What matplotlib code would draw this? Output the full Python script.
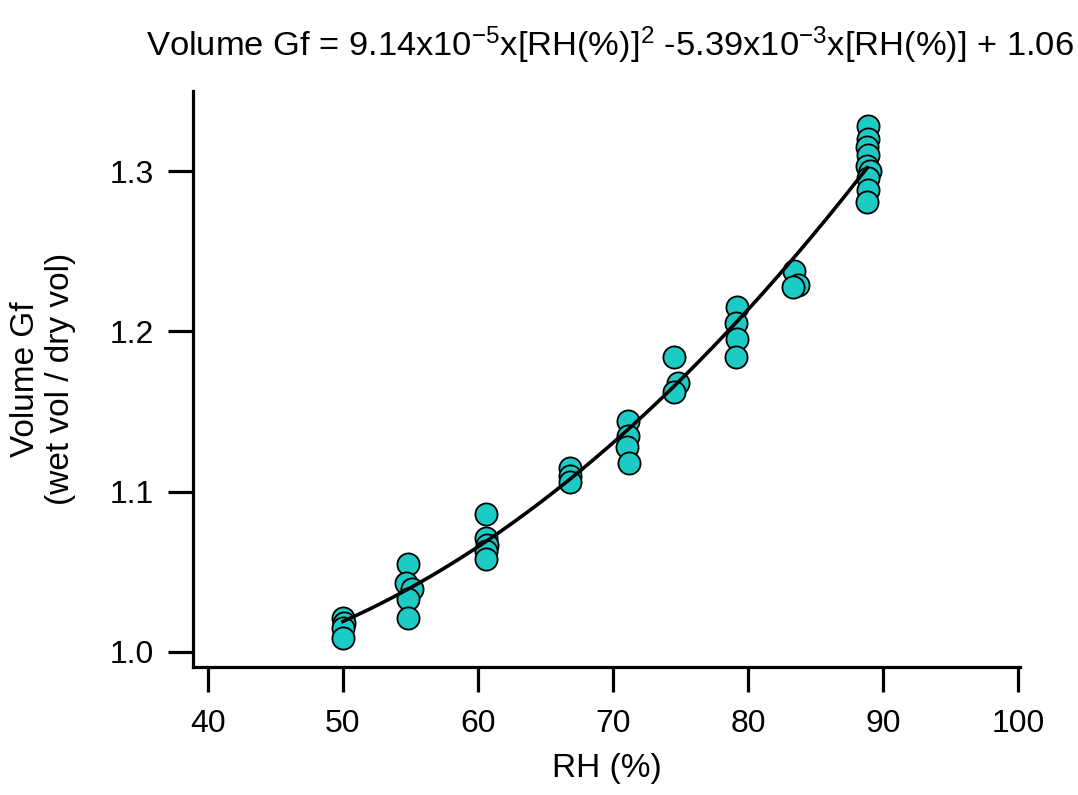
import matplotlib
matplotlib.use("Agg")
import matplotlib.pyplot as plt
import numpy as np

plt.rcParams['font.family'] = ['Liberation Sans', 'DejaVu Sans']
plt.rcParams['mathtext.fontset'] = 'custom'
plt.rcParams['mathtext.rm'] = 'Liberation Sans'
plt.rcParams['mathtext.default'] = 'regular'

# измеренные точки: RH (%) и объёмный фактор роста
rh = [50.0, 50.1, 50.0, 50.0,
      54.8, 54.7, 55.1, 54.8, 54.8,
      60.6, 60.6, 60.7, 60.6, 60.6,
      66.8, 66.8, 66.8,
      71.1, 71.1, 71.0, 71.2,
      74.5, 74.8, 74.5,
      79.2, 79.1, 79.2, 79.1,
      83.4, 83.7, 83.3,
      88.9, 88.9, 88.8, 88.9, 88.8, 89.0, 88.9, 88.9, 88.8]
gf = [1.021, 1.018, 1.015, 1.009,
      1.055, 1.043, 1.039, 1.033, 1.021,
      1.086, 1.071, 1.067, 1.063, 1.058,
      1.115, 1.110, 1.106,
      1.144, 1.135, 1.128, 1.118,
      1.184, 1.168, 1.162,
      1.215, 1.205, 1.195, 1.184,
      1.238, 1.229, 1.228,
      1.328, 1.320, 1.315, 1.310, 1.303, 1.300, 1.296, 1.288, 1.281]

# коэффициенты подгонки из заголовка
a2, a1, a0 = 9.14e-5, -5.39e-3, 1.06
fit_range = (50.0, 88.8)

xticks = [40, 50, 60, 70, 80, 90, 100]
yticks = [1.0, 1.1, 1.2, 1.3]

fig = plt.figure(figsize=(10.78, 7.95), dpi=100)
ax = fig.add_axes([0.179, 0.161, 0.767, 0.7245])

ax.scatter(rh, gf, s=255, color='#1ccbc4', edgecolor='black',
           linewidth=1.3, zorder=2)

xf = np.linspace(fit_range[0], fit_range[1], 200)
ax.plot(xf, a2 * xf**2 + a1 * xf + a0, color='black', linewidth=2.6, zorder=3)

ax.set_xlim(38.9, 100.1)
ax.set_ylim(0.9906, 1.35)
ax.set_xticks(xticks)
ax.set_yticks(yticks)
ax.set_yticklabels([f"{v:.1f}" for v in yticks])

for side in ['top', 'right']:
    ax.spines[side].set_visible(False)
for side in ['left', 'bottom']:
    ax.spines[side].set_linewidth(2.3)
ax.tick_params(direction='out', length=18, width=2.3, labelsize=23)
ax.tick_params(axis='y', pad=10)
ax.tick_params(axis='x', pad=12)

ax.set_xlabel("RH (%)", fontsize=24, labelpad=10)
ax.set_ylabel("Volume Gf\n(wet vol / dry vol)", fontsize=24, labelpad=24)

fig.text(0.566, 0.943,
         r"Volume Gf = 9.14x10$^{-5}$x[RH(%)]$^{2}$ -5.39x10$^{-3}$x[RH(%)] + 1.06",
         ha='center', va='center', fontsize=24.8)

fig.savefig("out.png", dpi=100)
